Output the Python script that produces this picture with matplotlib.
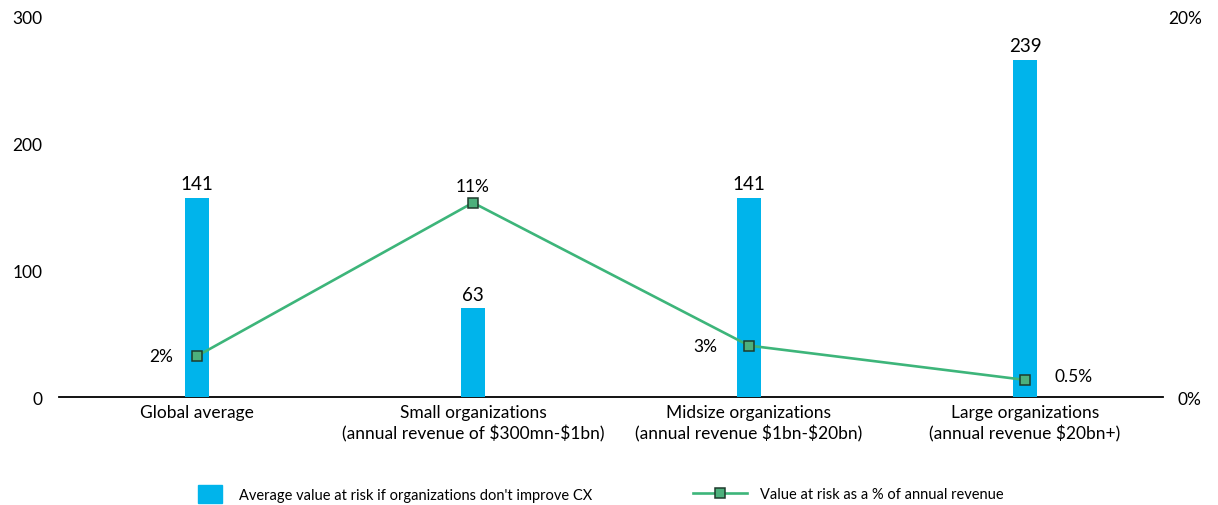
import matplotlib.pyplot as plt
from matplotlib.lines import Line2D
from matplotlib.patches import Patch

plt.rcParams['font.family'] = ['Lato', 'DejaVu Sans']
plt.rcParams['text.parse_math'] = False

# Data
categories = ['Global average',
              'Small organizations\n(annual revenue of $300mn-$1bn)',
              'Midsize organizations\n(annual revenue $1bn-$20bn)',
              'Large organizations\n(annual revenue $20bn+)']
value_at_risk = [141, 63, 141, 239]          # bar labels
pct_positions = [2.15, 10.2, 2.7, 0.9]        # marker heights on the % axis
pct_labels = ['2%', '11%', '3%', '0.5%']
left_ticks = [0, 100, 200, 300]
right_ticks = [0, 20]

bar_color = '#00B4EB'
line_color = '#3DB57A'
marker_face = '#4DB07C'
marker_edge = '#1E3B2C'

fig = plt.figure(figsize=(12.18, 5.06), dpi=100)
ax = fig.add_axes([0.0484, 0.2134, 0.9064, 0.753])
x = range(len(categories))

# left axis: shows 0-300 ticks
ax.set_xlim(-0.5, 3.5)
ax.set_ylim(0, 300)
ax.set_yticks(left_ticks)
ax.tick_params(axis='y', length=0, pad=12, labelsize=12.5)
ax.set_xticks(list(x))
ax.set_xticklabels(categories, fontsize=12.5, linespacing=1.3)
ax.tick_params(axis='x', length=0, pad=5)
for s in ['top', 'right', 'left']:
    ax.spines[s].set_visible(False)
ax.spines['bottom'].set_linewidth(1.3)

# bars on their own scale (as drawn in the original)
axb = ax.twinx()
axb.set_ylim(0, 270)
axb.axis('off')
axb.bar(x, value_at_risk, width=0.09, color=bar_color, zorder=2)
for xi, v in zip(x, value_at_risk):
    axb.annotate(str(v), (xi, v), xytext=(0, 4), textcoords='offset points',
                 ha='center', va='bottom', fontsize=13.5)

# percentage axis
ax2 = ax.twinx()
ax2.set_xlim(-0.5, 3.5)
ax2.set_ylim(0, 20)
ax2.set_yticks(right_ticks)
ax2.set_yticklabels([f'{t}%' for t in right_ticks])
ax2.tick_params(axis='y', length=0, pad=28, labelsize=12.5)
for lbl in ax2.get_yticklabels():
    lbl.set_horizontalalignment('right')
for s in ax2.spines.values():
    s.set_visible(False)
ax2.plot(x, pct_positions, color=line_color, lw=1.9, marker='s', ms=6.5,
         mfc=marker_face, mec=marker_edge, mew=1.1, zorder=3)
offsets = [(-17, 0, 'right', 'center'), (0, 6, 'center', 'bottom'),
           (-23, 0, 'right', 'center'), (21, 3, 'left', 'center')]
for xi, p, lab, (dx, dy, ha, va) in zip(x, pct_positions, pct_labels, offsets):
    ax2.annotate(lab, (xi, p), xytext=(dx, dy), textcoords='offset points',
                 ha=ha, va=va, fontsize=12.5)

# legends
h1 = Patch(color=bar_color)
fig.legend([h1], ["Average value at risk if organizations don't improve CX"],
           loc='center left', bbox_to_anchor=(0.1626, 0.022), frameon=False,
           fontsize=10.5, handlelength=1.65, handleheight=1.5,
           handletextpad=1.15, borderaxespad=0, borderpad=0)
h2 = Line2D([], [], color=line_color, lw=1.9, marker='s', ms=6.5,
            mfc=marker_face, mec=marker_edge, mew=1.1)
fig.legend([h2], ['Value at risk as a % of annual revenue'],
           loc='center left', bbox_to_anchor=(0.569, 0.022), frameon=False,
           fontsize=10.5, handlelength=3.7, handletextpad=0.9, borderaxespad=0,
           borderpad=0)

fig.savefig('out.png', dpi=100)
